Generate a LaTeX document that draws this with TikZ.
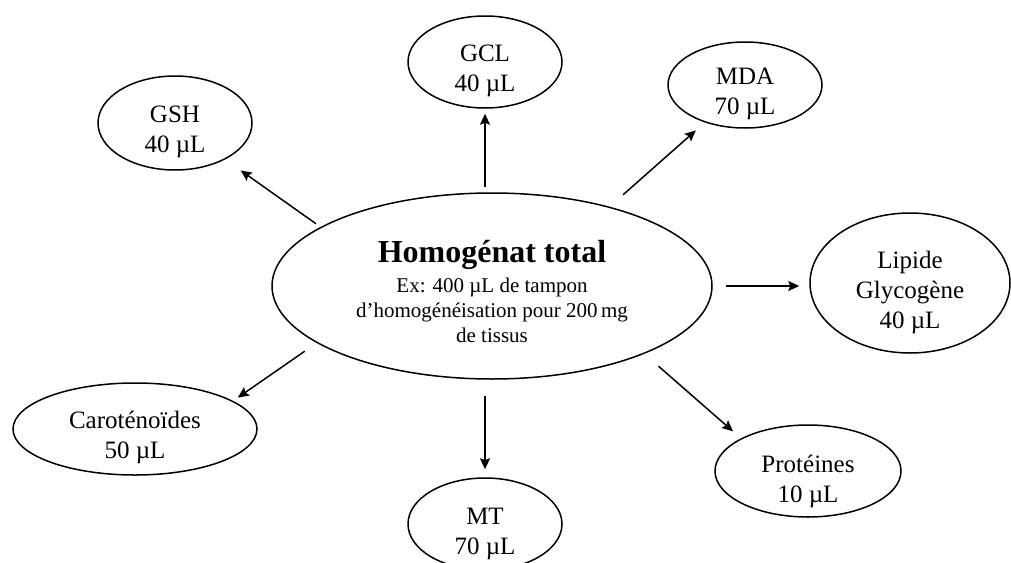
\documentclass[tikz,border=0pt]{standalone}
\usepackage{fontspec}
\setmainfont{Liberation Serif}
\usetikzlibrary{arrows.meta,shapes.geometric}
\begin{document}
\begin{tikzpicture}[x=1pt,y=-1pt,
  oval/.style={draw, ellipse, line width=1.5pt, inner sep=0pt},
  lbl/.style={align=center, font=\fontsize{25}{30}\selectfont, inner sep=0pt},
  arr/.style={line width=1.5pt, -{Stealth[length=11pt,width=10pt,inset=2pt]}}
]
\useasboundingbox[fill=white] (0,0) rectangle (1011,562);

% central node
\node[oval, minimum width=440pt, minimum height=186pt] (hom) at (492,286) {};
\node[align=center, inner sep=0pt, font=\fontsize{21}{25}\selectfont] (homt) at ([yshift=-5pt]hom.center)
  {{\fontsize{32}{38}\selectfont\bfseries Homogénat total}\\[5pt]
   Ex: 400 µL de tampon\\
   d’homogénéisation pour 200\,mg\\
   de tissus};

% satellite ellipses
\node[oval, minimum width=154pt, minimum height=92pt] (gcl) at (485,62) {};
\node[lbl] (gclt) at ([yshift=-9pt]gcl.center) {GCL\\40 µL};

\node[oval, minimum width=154pt, minimum height=86pt] (mda) at (745,85) {};
\node[lbl] (mdat) at ([yshift=-9pt]mda.center) {MDA\\70 µL};

\node[oval, minimum width=154pt, minimum height=94pt] (gsh) at (175,123) {};
\node[lbl] (gsht) at ([yshift=-9pt]gsh.center) {GSH\\40 µL};

\node[oval, minimum width=200pt, minimum height=140pt] (lip) at (910,283) {};
\node[lbl] (lipt) at ([yshift=-9pt]lip.center) {Lipide\\Glycogène\\40 µL};

\node[oval, minimum width=244pt, minimum height=92pt] (car) at (135,429) {};
\node[lbl] (cart) at ([yshift=-8pt]car.center) {Caroténoïdes\\50 µL};

\node[oval, minimum width=186pt, minimum height=92pt] (pro) at (808,471) {};
\node[lbl] (prot) at ([yshift=-10pt]pro.center) {Protéines\\10 µL};

\node[oval, minimum width=154pt, minimum height=92pt] (mt) at (485,524) {};
\node[lbl] (mtt) at ([yshift=-10pt]mt.center) {MT\\70 µL};

% connectors
\draw[arr, shorten <=5pt, shorten >=5pt] (gcl.south |- hom.north) -- (gcl.south);
\draw[arr, shorten <=18pt, shorten >=12pt] (hom.34.2) -- (mda.223.6);
\draw[arr, shorten <=5.6pt, shorten >=19pt] (hom.161.5) -- (gsh.324.2);
\draw[arr, shorten <=13pt, shorten >=10pt] (hom.east) -- (hom.east -| lip.west);
\draw[arr, shorten <=18.7pt, shorten >=10.6pt] (hom.336.7) -- (pro.154.7);
\draw[arr, shorten <=16pt, shorten >=8pt] (mt.north |- hom.south) -- (mt.north);
\draw[arr, shorten <=14.5pt, shorten >=5.8pt] (hom.198.7) -- (car.16);
\end{tikzpicture}
\end{document}
